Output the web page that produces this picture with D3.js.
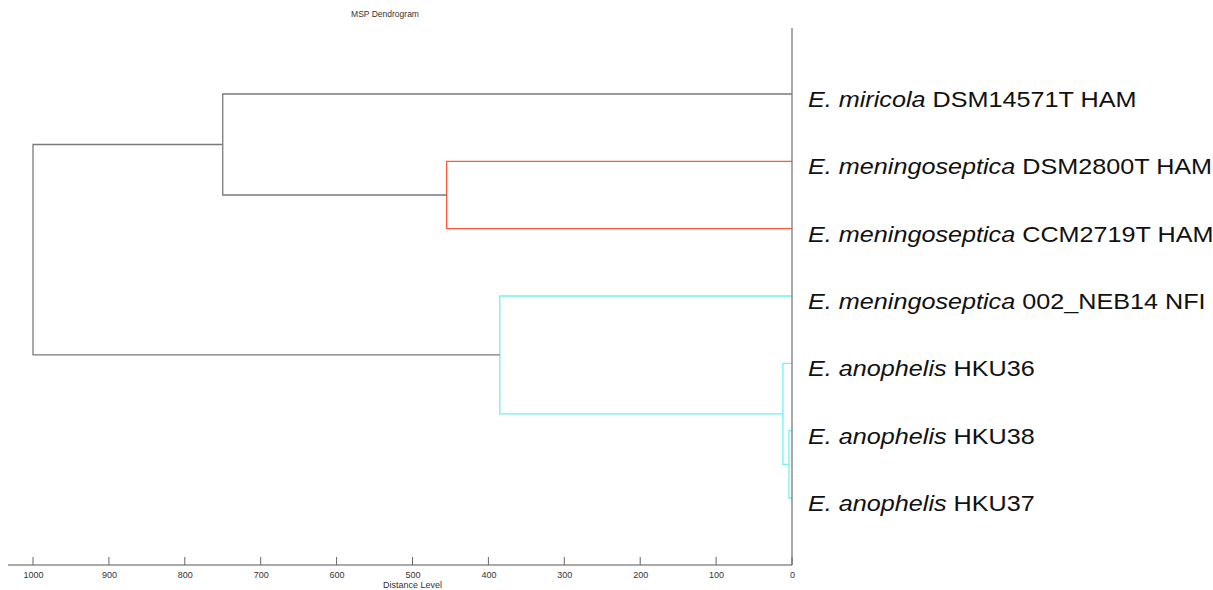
<!DOCTYPE html>
<html><head><meta charset="utf-8">
<script src="https://cdn.jsdelivr.net/npm/d3@7/dist/d3.min.js"></script>
<style>body{margin:0;background:#fff}svg{display:block}text{font-family:"Liberation Sans",Arial,sans-serif}</style>
</head><body>
<script>
// ---- data ----
const species = ["E. miricola","E. meningoseptica","E. meningoseptica","E. meningoseptica","E. anophelis","E. anophelis","E. anophelis"];
const strains = ["DSM14571T HAM","DSM2800T HAM","CCM2719T HAM","002_NEB14 NFI","HKU36","HKU38","HKU37"];
// linkage: [childA, childB, distance]; leaves are 0..6, merges numbered from 7
const merges = [
  [5, 6, 4],
  [4, 7, 12],
  [3, 8, 385],
  [1, 2, 455],
  [0, 10, 750],
  [11, 9, 1000]
];
const mergeGroup = ["cyan","cyan","cyan","red","base","base"];
const xTicks = [1000,900,800,700,600,500,400,300,200,100,0];
const title = "MSP Dendrogram";
const xTitle = "Distance Level";

// ---- styles ----
const colors = {base:"#7a7a7a", red:"#ff5a36", cyan:"#6ff2f2"};
const W = 1213, H = 590;
const svg = d3.select("body").append("svg").attr("width", W).attr("height", H);

const x = d3.scaleLinear().domain([1000, 0]).range([33, 792]);
const y = d3.scaleLinear().domain([0, species.length - 1]).range([94, 498]);

// node positions
const nodes = [];
species.forEach((s, i) => nodes.push({h: 0, y: y(i)}));
merges.forEach((m, i) => {
  nodes.push({h: m[2], y: (nodes[m[0]].y + nodes[m[1]].y) / 2, a: m[0], b: m[1], g: mergeGroup[i]});
});

const g = svg.append("g");
nodes.forEach(n => {
  if (n.a === undefined) return;
  const A = nodes[n.a], B = nodes[n.b];
  const px = x(n.h);
  const path = d3.path();
  path.moveTo(x(A.h), A.y);
  path.lineTo(px, A.y);
  path.lineTo(px, B.y);
  path.lineTo(x(B.h), B.y);
  g.append("path").attr("d", path.toString()).attr("fill", "none")
    .attr("stroke", colors[n.g]).attr("stroke-width", 1.3);
});

// zero line
svg.append("line").attr("x1", x(0)).attr("x2", x(0)).attr("y1", 28).attr("y2", 565)
  .attr("stroke", "#7a7a7a").attr("stroke-width", 1.3);

// axis
const axisG = svg.append("g").attr("transform", "translate(0,565)");
axisG.append("line").attr("x1", 8).attr("x2", x(0)).attr("y1", 0).attr("y2", 0)
  .attr("stroke", "#555").attr("stroke-width", 1);
const ax = d3.axisBottom(x).tickValues(xTicks).tickFormat(d3.format("d")).tickSize(0).tickPadding(7);
const axSel = axisG.append("g").call(ax);
axSel.select(".domain").remove();
axSel.selectAll("text").attr("font-size", 9).attr("fill", "#333")
  .style("font-family", "Liberation Sans, Arial, sans-serif");
axisG.selectAll(".tk").data(xTicks).enter().append("line")
  .attr("x1", d => x(d)).attr("x2", d => x(d)).attr("y1", -8).attr("y2", 0)
  .attr("stroke", "#666").attr("stroke-width", 1);

svg.append("text").attr("x", x(500)).attr("y", 588).attr("text-anchor", "middle")
  .attr("font-size", 9).attr("fill", "#333").text(xTitle);
svg.append("text").attr("x", 385).attr("y", 17).attr("text-anchor", "middle")
  .attr("font-size", 8.5).attr("fill", "#333").text(title);

// leaf labels (slightly wide type, as in the reference)
species.forEach((s, i) => {
  const t = svg.append("text")
    .attr("transform", `translate(808,${y(i) + 13}) scale(1.12,1)`)
    .attr("font-size", 22.5).attr("fill", "#111");
  t.append("tspan").attr("font-style", "italic").text(s);
  t.append("tspan").text(" " + strains[i]);
});
</script>
</body></html>
